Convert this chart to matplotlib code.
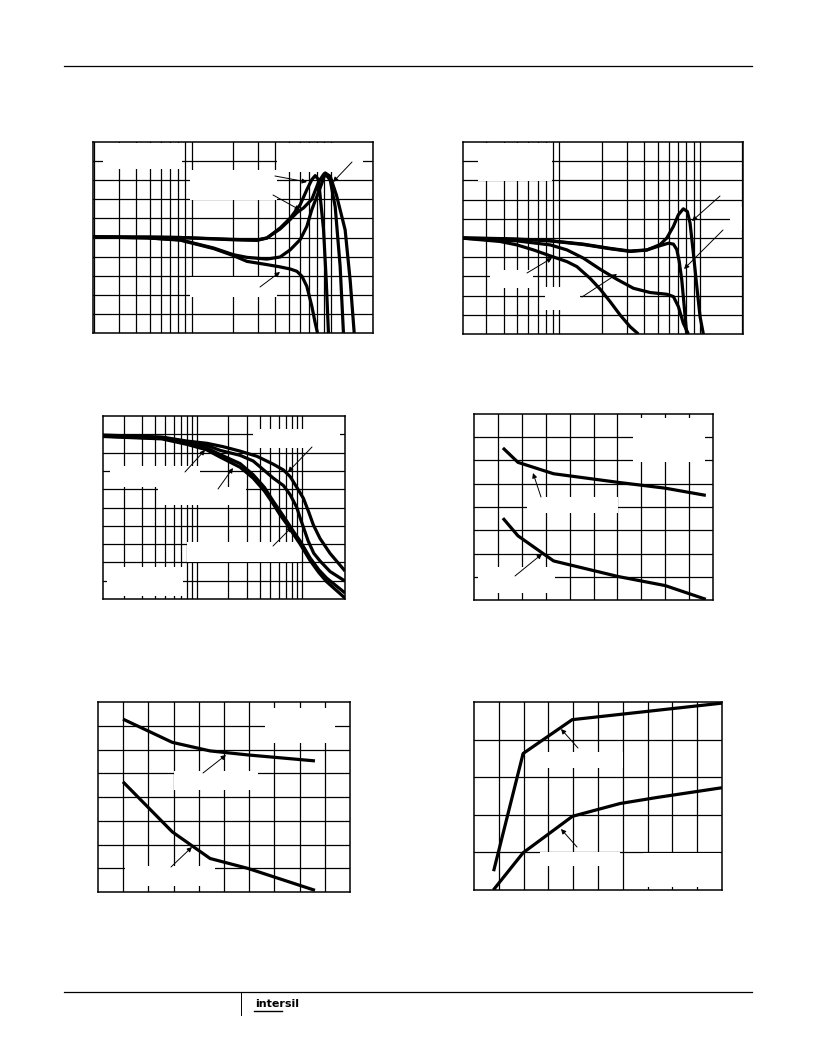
import matplotlib
matplotlib.use('Agg')
import matplotlib.pyplot as plt
from matplotlib.patches import Rectangle
from matplotlib.ticker import FixedLocator, NullLocator

# ---- data (axis text was blanked in the original) ----
# panel 1: log x, 10 vertical divisions
p1_a_x = [1.96, 4.79, 8.3, 20.0, 29.5, 34.8, 43.3, 51.2, 60.3, 67.3, 73.1, 77.3, 81.7, 83.9, 88.7, 92.7, 96.2]
p1_a_y = [5.03, 5.02, 5.0, 4.88, 4.85, 4.97, 5.50, 6.02, 6.72, 7.50, 8.03, 8.24, 8.03, 7.16, 5.41, 2.79, 0.0]
p1_b_x = [1.96, 4.79, 8.3, 20.0, 29.5, 34.8, 43.3, 51.2, 57.1, 63.7, 73.1, 81.7, 88.7, 91.2, 99.1, 110.0, 126.8, 138.0, 147.3]
p1_b_y = [5.03, 5.02, 5.0, 4.90, 4.87, 4.98, 5.45, 5.95, 6.30, 6.55, 7.00, 7.90, 8.30, 8.38, 8.20, 7.20, 5.40, 2.70, 0.0]
p1_c_x = [1.96, 4.79, 8.3, 14.4, 20.0, 25.0, 34.8, 43.3, 51.2, 60.3, 67.3, 73.1, 83.9, 91.2, 99.1, 107.6, 116.7, 123.3]
p1_c_y = [5.03, 4.98, 4.88, 4.45, 4.10, 3.96, 3.87, 3.98, 4.36, 4.89, 5.58, 6.46, 7.60, 8.34, 8.00, 6.60, 3.50, 0.0]
p1_d_x = [1.96, 4.79, 8.3, 14.4, 20.0, 25.0, 34.8, 43.3, 51.2, 57.1, 62.1, 67.3, 73.1, 77.3, 80.3]
p1_d_y = [5.03, 4.98, 4.86, 4.42, 4.05, 3.75, 3.58, 3.46, 3.35, 3.23, 2.97, 2.44, 1.40, 0.52, 0.0]

# panel 2: log x, 10 vertical divisions
p2_e1_x = [2.06, 3.77, 6.53, 8.59, 14.8, 22.9, 31.8, 41.8, 52.0, 58.0, 64.6, 70.1, 76.0, 81.2, 84.9, 89.6, 94.8, 100.0, 105.5]
p2_e1_y = [4.99, 4.96, 4.90, 4.85, 4.66, 4.44, 4.30, 4.37, 4.66, 5.0, 5.60, 6.21, 6.52, 6.38, 5.77, 4.21, 2.47, 0.90, 0.0]
p2_e2_x = [2.06, 3.77, 6.53, 8.59, 14.8, 22.9, 31.8, 41.8, 52.0, 59.6, 64.6, 68.3, 71.0, 74.1, 77.0, 80.3]
p2_e2_y = [5.01, 4.97, 4.91, 4.86, 4.68, 4.46, 4.32, 4.38, 4.60, 4.73, 4.68, 4.40, 3.80, 2.82, 1.50, 0.0]
p2_f_x = [2.06, 3.77, 4.98, 6.53, 8.59, 11.3, 13.3, 16.5, 19.5, 22.9, 27.0, 31.8, 36.4]
p2_f_y = [4.99, 4.82, 4.64, 4.38, 4.07, 3.77, 3.51, 2.90, 2.33, 1.69, 0.99, 0.38, 0.0]
p2_g_x = [2.06, 4.98, 8.59, 11.3, 14.8, 19.5, 25.6, 33.6, 44.2, 58.0, 64.6, 70.1, 76.0, 82.6]
p2_g_y = [4.99, 4.85, 4.64, 4.38, 3.95, 3.37, 2.85, 2.38, 2.16, 2.07, 1.95, 1.43, 0.56, 0.0]

# panel 3: log x, 10 vertical divisions
p3_h1_x = [1.27, 4.64, 8.03, 12.4, 17.9, 25.8, 37.3, 53.7, 66.8, 77.4, 89.6, 103.6, 115.5, 129.0, 149.0, 186.0, 258.0]
p3_h1_y = [8.96, 8.85, 8.63, 8.51, 8.32, 8.08, 7.80, 7.36, 7.05, 6.69, 6.10, 5.50, 4.80, 4.04, 3.31, 2.49, 1.53]
p3_h2_x = [1.27, 4.64, 8.03, 12.4, 16.7, 25.8, 34.4, 53.3, 66.8, 77.4, 89.6, 96.4, 115.0, 130.0, 149.0, 186.0, 258.0]
p3_h2_y = [8.93, 8.82, 8.58, 8.40, 8.12, 7.85, 7.54, 6.61, 6.20, 5.70, 5.00, 4.43, 3.17, 2.50, 2.08, 1.50, 0.98]
p3_x34 = [1.27, 4.64, 8.03, 12.4, 16.7, 25.8, 34.4, 44.0, 53.3, 62.0, 71.8, 83.0, 96.4, 120.0, 145.0, 172.0, 258.0]
p3_h3_y = [8.90, 8.78, 8.50, 8.25, 7.89, 7.40, 6.79, 6.10, 5.35, 4.80, 4.26, 3.70, 3.17, 2.24, 1.60, 1.15, 0.33]
p3_h4_y = [8.88, 8.75, 8.45, 8.15, 7.75, 7.20, 6.60, 5.90, 5.20, 4.60, 4.10, 3.55, 3.00, 2.10, 1.45, 0.95, 0.05]

# panel 4: linear, 10 x 8 divisions
p4_x = [1.21, 1.84, 3.33, 6.03, 8.0, 9.7]
p4_up = [6.54, 5.92, 5.43, 5.06, 4.81, 4.50]
p4_lo = [3.52, 2.76, 1.68, 1.01, 0.62, 0.03]

# panel 5: linear, 10 x 8 divisions
p5_x = [0.99, 2.95, 4.45, 5.96, 8.61]
p5_up = [7.28, 6.30, 5.94, 5.77, 5.52]
p5_lo = [4.64, 2.53, 1.41, 0.99, 0.07]

# panel 6: linear, 10 x 5 divisions
p6_up_x = [0.79, 1.98, 3.96, 10.0]
p6_up_y = [0.50, 3.63, 4.53, 4.97]
p6_lo_x = [0.78, 1.98, 3.97, 5.89, 7.37, 10.0]
p6_lo_y = [0.0, 0.99, 1.96, 2.30, 2.46, 2.72]

W, H = 816, 1056
fig = plt.figure(figsize=(8.16, 10.56), dpi=100)
LOG_GRID = [2, 3, 4, 5, 6, 7, 8, 9, 10, 20, 30, 40, 50, 60, 70, 80, 90, 100, 200]
LW = 2.3


def fxy(px, py):
    return (px / W, 1 - py / H)


def panel(l, t, r, b, xlim, ylim, xgrid, ygrid, log=False):
    ax = fig.add_axes([l / W, 1 - b / H, (r - l) / W, (b - t) / H])
    if log:
        ax.set_xscale('log')
    ax.set_xlim(*xlim); ax.set_ylim(*ylim)
    ax.xaxis.set_major_locator(FixedLocator(xgrid))
    ax.yaxis.set_major_locator(FixedLocator(ygrid))
    ax.xaxis.set_minor_locator(NullLocator())
    ax.yaxis.set_minor_locator(NullLocator())
    ax.tick_params(length=0, labelbottom=False, labelleft=False)
    ax.set_axisbelow(True)
    ax.grid(True, color='black', lw=0.9)
    for s in ax.spines.values():
        s.set_linewidth(1.1)
    return ax


def curve(ax, xs, ys):
    ax.plot(xs, ys, color='black', lw=LW, zorder=2,
            solid_joinstyle='round', solid_capstyle='butt')


def blank(ax, x0, y0, x1, y1):
    """White patch where the label text was removed (page pixels)."""
    ax.add_patch(Rectangle(fxy(x0, y1), (x1 - x0) / W, (y1 - y0) / H,
                           transform=fig.transFigure, fc='white', ec='none', zorder=1))


def arrow(ax, tail, head):
    ax.annotate('', xy=fxy(*head), xytext=fxy(*tail), xycoords='figure fraction',
                textcoords='figure fraction', zorder=4,
                arrowprops=dict(arrowstyle='-|>', lw=0.7, color='black',
                                mutation_scale=7, shrinkA=0, shrinkB=0))


# page rules
fig.add_artist(plt.Line2D([64 / W, 752 / W], [1 - 66 / H] * 2, color='black', lw=0.9))
fig.add_artist(plt.Line2D([64 / W, 752 / W], [1 - 992 / H] * 2, color='black', lw=0.9))
fig.add_artist(plt.Line2D([241 / W] * 2, [1 - 992 / H, 1 - 1015 / H], color='black', lw=0.7))
fig.text(255 / W, 1 - 1007 / H, 'intersil', fontsize=8, fontweight='bold', va='baseline')
fig.add_artist(plt.Line2D([254 / W, 282 / W], [1 - 1011 / H] * 2, color='black', lw=1.0))

# panel 1
ax1 = panel(93, 142, 373, 333, (1.96, 201), (0, 10), LOG_GRID, range(1, 10), log=True)
for xs, ys in [(p1_a_x, p1_a_y), (p1_b_x, p1_b_y), (p1_c_x, p1_c_y), (p1_d_x, p1_d_y)]:
    curve(ax1, xs, ys)
for box in [(103, 143, 182, 169), (277, 143, 363, 172), (190, 170, 277, 200), (190, 277, 277, 297)]:
    blank(ax1, *box)
arrow(ax1, (275, 176), (307, 182))
arrow(ax1, (273, 195), (300, 210))
arrow(ax1, (352, 162), (333, 182))
arrow(ax1, (260, 287), (280, 272))

# panel 2
ax2 = panel(463, 142, 743, 334, (2.06, 202), (0, 10), LOG_GRID, range(1, 10), log=True)
for xs, ys in [(p2_e1_x, p2_e1_y), (p2_e2_x, p2_e2_y), (p2_f_x, p2_f_y), (p2_g_x, p2_g_y)]:
    curve(ax2, xs, ys)
for box in [(478, 143, 552, 181), (490, 270, 533, 288), (545, 287, 580, 310), (730, 207, 742, 230)]:
    blank(ax2, *box)
arrow(ax2, (527, 273), (552, 258))
arrow(ax2, (582, 297), (617, 274))
arrow(ax2, (720, 196), (692, 221))
arrow(ax2, (723, 230), (684, 269))

# panel 3
ax3 = panel(103, 416, 345, 599, (1.273, 258), (0, 10),
            [2, 3, 4, 5, 6, 7, 8, 9, 10, 20, 30, 40, 50, 60, 70, 80, 90, 100], range(1, 10), log=True)
curve(ax3, p3_h1_x, p3_h1_y)
curve(ax3, p3_h2_x, p3_h2_y)
curve(ax3, p3_x34, p3_h3_y)
curve(ax3, p3_x34, p3_h4_y)
for box in [(110, 466, 200, 487), (158, 487, 246, 505), (253, 429, 340, 448),
            (187, 542, 300, 562), (107, 567, 183, 596)]:
    blank(ax3, *box)
arrow(ax3, (185, 472), (205, 450))
arrow(ax3, (218, 489), (233, 468))
arrow(ax3, (273, 546), (292, 527))
arrow(ax3, (312, 447), (288, 472))

# panel 4
ax4 = panel(474, 414, 713, 600, (0, 10), (0, 8), range(1, 10), range(1, 8))
curve(ax4, p4_x, p4_up)
curve(ax4, p4_x, p4_lo)
for box in [(633, 418, 705, 462), (527, 497, 618, 513), (478, 567, 555, 593)]:
    blank(ax4, *box)
arrow(ax4, (541, 497), (533, 473))
arrow(ax4, (515, 576), (542, 554))

# panel 5
ax5 = panel(98, 702, 350, 892, (0, 10), (0, 8), range(1, 10), range(1, 8))
curve(ax5, p5_x, p5_up)
curve(ax5, p5_x, p5_lo)
for box in [(265, 708, 335, 743), (174, 771, 258, 790), (125, 866, 215, 886)]:
    blank(ax5, *box)
arrow(ax5, (203, 773), (226, 755))
arrow(ax5, (171, 867), (192, 847))

# panel 6
ax6 = panel(474, 702, 722, 890, (0, 10), (0, 5), range(1, 10), range(1, 5))
curve(ax6, p6_up_x, p6_up_y)
curve(ax6, p6_lo_x, p6_lo_y)
for box in [(532, 752, 623, 768), (540, 852, 620, 866), (643, 853, 720, 887)]:
    blank(ax6, *box)
arrow(ax6, (578, 748), (561, 729))
arrow(ax6, (577, 847), (561, 829))

fig.savefig('out.png', dpi=100)
